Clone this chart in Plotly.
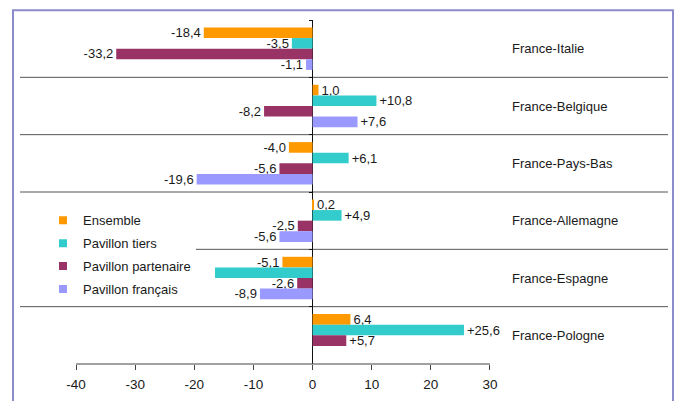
import plotly.graph_objects as go

# Trafic par liaison : évolution (%) selon le pavillon
routes = ["France-Italie", "France-Belgique", "France-Pays-Bas",
          "France-Allemagne", "France-Espagne", "France-Pologne"]
series_names = ["Ensemble", "Pavillon tiers", "Pavillon partenaire", "Pavillon français"]
ensemble = [-18.4, 1.0, -4.0, 0.2, -5.1, 6.4]
pavillon_tiers = [-3.5, 10.8, 6.1, 4.9, -16.5, 25.6]
pavillon_partenaire = [-33.2, -8.2, -5.6, -2.5, -2.6, 5.7]
pavillon_francais = [-1.1, 7.6, -19.6, -5.6, -8.9, None]
series_values = [ensemble, pavillon_tiers, pavillon_partenaire, pavillon_francais]
colors = ["#FF9900", "#33CCCC", "#993366", "#9999FF"]
signed_labels = [False, True, True, True]   # "+" prefix on positive values
unlabelled = {("Pavillon tiers", "France-Espagne")}
x_ticks = [-40, -30, -20, -10, 0, 10, 20, 30]

FONT = "Liberation Sans, Arial, sans-serif"
TEXT = "#1a1a1a"
W, H = 677, 401
M_L, M_R, M_T, M_B = 20, 9, 20, 32
X_MIN, X_MAX = -49.47, 60.10


def fmt(v, signed):
    if v is None:
        return ""
    s = f"{abs(v):.1f}".replace(".", ",")
    if v < 0:
        return "-" + s
    return ("+" + s) if signed else s


fig = go.Figure()

for name, vals, col, signed in zip(series_names, series_values, colors, signed_labels):
    labels = ["" if (name, r) in unlabelled else fmt(v, signed) for r, v in zip(routes, vals)]
    fig.add_trace(go.Bar(
        y=routes, x=vals, orientation="h", name=name,
        marker=dict(color=col, line=dict(width=0)),
        text=labels, textposition="outside", constraintext="none",
        textfont=dict(family=FONT, size=13, color=TEXT),
        cliponaxis=False, showlegend=False, hoverinfo="x+name",
    ))

# legend entries with small square keys
for name, col in zip(series_names, colors):
    fig.add_trace(go.Scatter(
        x=[None], y=[None], mode="markers", name=name, legendgroup=name,
        marker=dict(symbol="square", size=8, color=col),
    ))

plot_w = W - M_L - M_R
plot_h = H - M_T - M_B

shapes = []
# separators between routes
for i in range(len(routes) - 1):
    shapes.append(dict(type="line", xref="paper", yref="y", x0=0, x1=1,
                       y0=i + 0.5, y1=i + 0.5, line=dict(color="#555555", width=1),
                       layer="below"))
# value axis line spanning the labelled ticks
shapes.append(dict(type="line", xref="x", yref="paper", x0=x_ticks[0], x1=x_ticks[-1],
                   y0=0, y1=0, line=dict(color="#444444", width=1)))
# chart frame
shapes.append(dict(type="rect", xref="paper", yref="paper",
                   x0=-7 / plot_w, x1=1 + 5 / plot_w, y0=-0.3, y1=1 + 10 / plot_h,
                   line=dict(color="#8C8CCC", width=2), fillcolor="rgba(0,0,0,0)"))

annotations = [dict(x=(510 - M_L) / plot_w, xref="paper", y=r, yref="y", text=r,
                    xanchor="left", yanchor="middle", showarrow=False,
                    font=dict(family=FONT, size=13, color=TEXT)) for r in routes]

zero_pos = (0 - X_MIN) / (X_MAX - X_MIN)

fig.update_layout(
    width=W, height=H,
    margin=dict(l=M_L, r=M_R, t=M_T, b=M_B, pad=0),
    paper_bgcolor="white", plot_bgcolor="white",
    font=dict(family=FONT, size=13, color=TEXT),
    barmode="group", bargap=0.26, bargroupgap=0,
    xaxis=dict(range=[X_MIN, X_MAX], tickvals=x_ticks, ticktext=[str(t) for t in x_ticks],
               ticks="outside", ticklen=5, tickcolor="#444444", ticklabelstandoff=3,
               showgrid=False, showline=False,
               zeroline=True, zerolinecolor="#111111", zerolinewidth=1,
               tickfont=dict(family=FONT, size=13.5, color=TEXT)),
    yaxis=dict(categoryorder="array", categoryarray=routes, range=[5.5, -0.5],
               showticklabels=False, ticks="outside", tickson="boundaries", ticklen=4,
               tickcolor="#111111", anchor="free", position=zero_pos,
               showgrid=False, zeroline=False, showline=False),
    legend=dict(x=0, y=(H - M_B - 208) / plot_h, xanchor="left", yanchor="top",
                bgcolor="white", traceorder="grouped", tracegroupgap=3,
                indentation=23, entrywidth=122, entrywidthmode="pixels",
                font=dict(family=FONT, size=13, color=TEXT)),
    shapes=shapes,
    annotations=annotations,
)

fig.write_html("out.html")
